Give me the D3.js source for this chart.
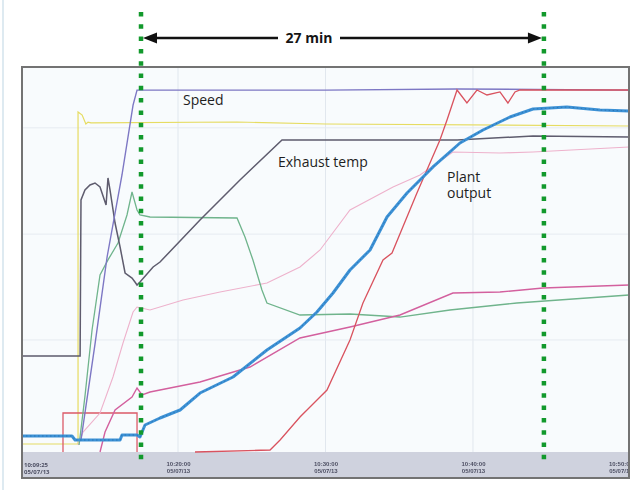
<!DOCTYPE html>
<html>
<head>
<meta charset="utf-8">
<script src="https://cdn.jsdelivr.net/npm/d3@7"></script>
<style>
  body { margin: 0; background: #fff; }
  svg { display: block; }
</style>
</head>
<body>
<div class="trend"></div>
<script>
// trend values: [minutes after 10:00, % of span]
let speed = [[13.42,3.1],[14.37,28],[15.19,50.65],[16.2,71.95],[16.95,90.1],[17.22,94.0],[30,94.0],[38.9,94.3],[50.58,94.0]];
let fuelA = [[9.42,2.08],[13.22,2.08],[13.22,88.3],[13.5,87.5],[13.75,85.2],[13.9,85.7],[14.1,85.5],[24.0,85.71],[30,85.2],[50.58,84.68]];
let fuelB = [[17.22,9.09],[50.58,9.09]];
let exhaust = [[9.42,24.94],[13.36,24.94],[13.42,65.45],[13.69,68.05],[14.03,69.35],[14.37,69.87],[14.71,68.83],[15.12,64.16],[15.25,71.17],[15.39,68.05],[15.73,59.48],[16.07,53.25],[16.41,46.49],[16.88,45.19],[17.08,44.16],[17.22,43.38],[17.42,44.16],[18.31,48.05],[18.78,49.35],[21.49,60.26],[24.2,70.65],[27.05,81.04],[38.92,81.04],[44.07,82.08],[50.58,81.82]];
let airflow = [[13.29,1.82],[13.69,14.5],[14.17,31.69],[14.71,45.97],[15.25,49.9],[15.93,54.29],[16.54,61.56],[16.88,67.53],[17.22,62.86],[17.42,61.56],[18.1,61.04],[24.0,60.78],[24.54,55.84],[25.08,49.87],[25.69,42.08],[26.03,38.7],[28.27,35.58],[31.66,35.84],[35.05,35.06],[38.44,36.88],[42.98,38.7],[50.58,40.78]];
let steam = [[14.71,0],[15.05,5.19],[15.73,10.91],[16.88,14.29],[17.22,16.62],[17.56,14.81],[18.1,15.58],[21.49,18.18],[24.88,22.08],[28.27,29.61],[31.66,32.47],[35.05,35.58],[38.64,41.3],[41.83,41.56],[44.75,42.6],[50.58,43.38]];
let drumTemp = [[13.22,1.82],[13.56,5.19],[14.71,10.13],[15.59,19.48],[16.27,28.31],[16.95,36.36],[17.22,37.66],[18.1,36.88],[20.34,39.48],[22.85,41.56],[26.03,43.9],[28.27,48.05],[29.63,52.47],[31.66,62.86],[34.58,68.83],[36.41,71.95],[38.64,77.92],[41.83,77.66],[44.07,77.92],[50.58,79.22]];
let stPower = [[21.15,0],[26.24,0.52],[26.92,3.12],[28.27,9.09],[30.1,16.1],[31.66,29.09],[32.54,38.7],[33.9,49.87],[34.51,51.69],[36.2,67.27],[37.76,81.04],[38.24,86.23],[38.92,94.03],[39.59,90.65],[40.27,94.03],[40.95,92.73],[41.83,93.51],[42.37,90.65],[42.85,93.51],[43.19,94.03],[50.58,94.03]];
let ignition = [[12.2,0],[12.2,10.13],[17.22,10.13],[17.22,0]];
let plantOutput = [[9.42,4.16],[12.81,4.16],[13.02,3.12],[16.07,3.12],[16.2,4.42],[17.22,4.42],[17.42,3.9],[17.76,7.01],[18.78,8.83],[20.14,10.91],[21.49,15.32],[23.73,19.48],[26.03,26.49],[28.27,32.21],[29.42,36.36],[30.51,41.3],[31.66,47.27],[33.02,52.47],[34.17,61.04],[35.53,67.27],[37.29,74.03],[39.12,80.26],[40.68,83.64],[42.51,87.01],[44.07,89.09],[46.37,89.61],[48.61,88.83],[50.58,88.57]];

let majorTicks = [20, 30, 40, 50];
let majorLabels = ["10:20:00", "10:30:00", "10:40:00", "10:50:00"];
let startLabel = "10:09:25";
let dateLabel = "05/07/13";
let yGrid = [29.1, 56.6, 84.2];
let marks = [17.49, 44.81];   // green dotted lines
let spanText = "27 min";

let W = 643, H = 490;
let plot = {left: 22, right: 629, top: 67, bottom: 452, frameBottom: 478};

let x = d3.scaleLinear().domain([9.42, 50.58]).range([plot.left, plot.right]);
let y = d3.scaleLinear().domain([0, 100]).range([plot.bottom, plot.bottom - 385]);

let svg = d3.select(".trend").append("svg")
  .attr("width", W).attr("height", H)
  .style("font-family", "'Open Sans', 'Noto Sans', sans-serif");

let defs = svg.append("defs");
defs.append("clipPath").attr("id", "clip")
  .append("rect").attr("x", plot.left).attr("y", plot.top)
  .attr("width", plot.right - plot.left).attr("height", plot.frameBottom - plot.top);
defs.append("filter").attr("id", "soft")
  .append("feGaussianBlur").attr("stdDeviation", 0.35);
defs.append("filter").attr("id", "soft2")
  .append("feGaussianBlur").attr("stdDeviation", 0.45);

// page edge
svg.append("line").attr("x1", 3).attr("x2", 3).attr("y1", 0).attr("y2", H)
  .attr("stroke", "#d3e3ec").attr("stroke-width", 1.5);

// plot background + band
svg.append("rect").attr("x", plot.left).attr("y", plot.top)
  .attr("width", plot.right - plot.left).attr("height", plot.bottom - plot.top)
  .attr("fill", "#f8fbfd");
svg.append("rect").attr("x", plot.left).attr("y", plot.bottom)
  .attr("width", plot.right - plot.left).attr("height", plot.frameBottom - plot.bottom)
  .attr("fill", "#cfd2de");

let g = svg.append("g").attr("clip-path", "url(#clip)");

// grid
g.selectAll(".vg").data(majorTicks.slice(0, 3)).enter().append("line")
  .attr("x1", d => x(d)).attr("x2", d => x(d))
  .attr("y1", plot.top).attr("y2", plot.bottom)
  .attr("stroke", "#e1e7ee").attr("stroke-width", 1);
g.selectAll(".hg").data(yGrid).enter().append("line")
  .attr("x1", plot.left).attr("x2", plot.right)
  .attr("y1", d => y(d)).attr("y2", d => y(d))
  .attr("stroke", "#e6ebf1").attr("stroke-width", 1);

// minor ticks on the band
let minor = d3.range(10, 51);
let axMinor = g.append("g").attr("transform", "translate(0," + plot.bottom + ")")
  .call(d3.axisBottom(x).tickValues(minor).tickSize(3).tickFormat(""));
axMinor.select(".domain").remove();
axMinor.selectAll("line").attr("stroke", "#6a6c80").attr("stroke-width", 1).attr("filter", "url(#soft)");

let axMajor = g.append("g").attr("transform", "translate(0," + plot.bottom + ")")
  .call(d3.axisBottom(x).tickValues(majorTicks).tickSize(5)
    .tickFormat((d, i) => majorLabels[i]));
axMajor.select(".domain").remove();
axMajor.selectAll("line").attr("stroke", "#6a6c80").attr("filter", "url(#soft)");
axMajor.selectAll(".tick text")
  .attr("y", 10).attr("font-size", 6).attr("font-weight", "bold")
  .attr("fill", "#4d4f63").attr("filter", "url(#soft)")
  .append("tspan").attr("x", 0).attr("dy", 7).text(dateLabel);

let st = g.append("text").attr("x", plot.left + 2).attr("y", plot.bottom + 15)
  .attr("font-size", 6).attr("font-weight", "bold").attr("fill", "#4d4f63")
  .attr("filter", "url(#soft)");
st.append("tspan").attr("x", plot.left + 2).text(startLabel);
st.append("tspan").attr("x", plot.left + 2).attr("dy", 7).text(dateLabel);

// traces
let line = d3.line().x(d => x(d[0])).y(d => y(d[1]));
let series = [
  {data: fuelB, color: "#e9e27a", w: 1.1},
  {data: fuelA, color: "#e6dc62", w: 1.2},
  {data: ignition, color: "#dc5a68", w: 1.3},
  {data: drumTemp, color: "#eeb2cc", w: 1.1},
  {data: airflow, color: "#6fb48c", w: 1.3},
  {data: exhaust, color: "#5e5c6e", w: 1.5},
  {data: speed, color: "#7d77c4", w: 1.4},
  {data: steam, color: "#d3609e", w: 1.4},
  {data: stPower, color: "#d9525e", w: 1.3}
];
g.selectAll(".trace").data(series).enter().append("path")
  .attr("d", d => line(d.data))
  .attr("fill", "none")
  .attr("stroke", d => d.color)
  .attr("stroke-width", d => d.w)
  .attr("filter", "url(#soft)");

g.append("path").attr("d", line(plantOutput))
  .attr("fill", "none").attr("stroke", "#3e92d6").attr("stroke-width", 3)
  .attr("stroke-linejoin", "round").attr("filter", "url(#soft)");
g.append("path").attr("d", line(plantOutput))
  .attr("fill", "none").attr("stroke", "#236aa8").attr("stroke-width", 1)
  .attr("stroke-dasharray", "1.5,2.5").attr("opacity", 0.7);

// frame
svg.append("rect").attr("x", plot.left).attr("y", plot.top)
  .attr("width", plot.right - plot.left).attr("height", plot.frameBottom - plot.top)
  .attr("fill", "none").attr("stroke", "#737373").attr("stroke-width", 2)
  .attr("filter", "url(#soft2)");

// labels
let lbl = svg.append("g").attr("font-size", 14).attr("fill", "#1e1e1e");
lbl.append("text").attr("x", 183).attr("y", 105).text("Speed");
lbl.append("text").attr("x", 278).attr("y", 167).text("Exhaust temp");
let po = lbl.append("text").attr("x", 447).attr("y", 182);
po.append("tspan").attr("x", 447).text("Plant");
po.append("tspan").attr("x", 447).attr("dy", 16).text("output");

// green dotted markers
svg.selectAll(".mk").data(marks).enter().append("line")
  .attr("x1", d => x(d)).attr("x2", d => x(d))
  .attr("y1", 12).attr("y2", 464)
  .attr("stroke", "#12992c").attr("stroke-width", 4.5)
  .attr("stroke-dasharray", "4.5,7.8");

// span arrow
let ay = 38, ax0 = x(marks[0]) + 2, ax1 = x(marks[1]) - 2;
svg.append("line").attr("x1", ax0 + 10).attr("x2", ax1 - 10).attr("y1", ay).attr("y2", ay)
  .attr("stroke", "#111").attr("stroke-width", 2.4);
svg.append("path")
  .attr("d", "M" + ax0 + "," + ay + "l14,-5.5l0,11z")
  .attr("fill", "#111");
svg.append("path")
  .attr("d", "M" + ax1 + "," + ay + "l-14,-5.5l0,11z")
  .attr("fill", "#111");
svg.append("rect").attr("x", 278).attr("y", 28).attr("width", 62).attr("height", 20).attr("fill", "#fff");
svg.append("text").attr("x", 309).attr("y", 43).attr("text-anchor", "middle")
  .attr("font-size", 14).attr("font-weight", "bold").attr("fill", "#151515")
  .text(spanText);
</script>
</body>
</html>
